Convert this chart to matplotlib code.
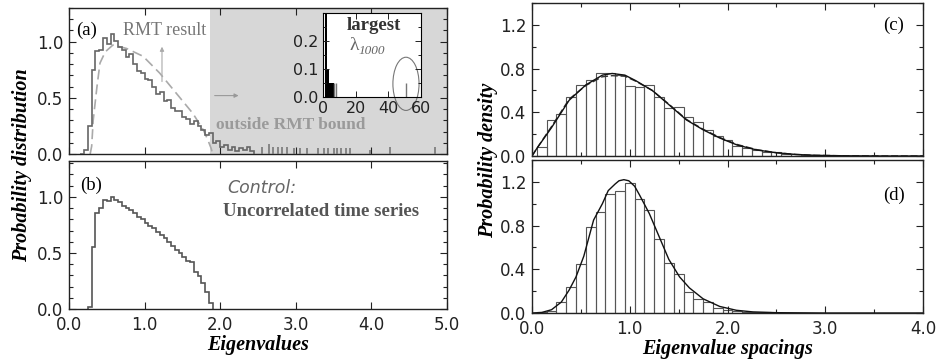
import numpy as np
import matplotlib
matplotlib.use('Agg')
import matplotlib.pyplot as plt
from matplotlib.patches import Ellipse
from matplotlib.ticker import MultipleLocator, FixedLocator, FormatStrFormatter

plt.rcParams['font.family'] = 'DejaVu Sans'

# ---- data ----
# (a) eigenvalue histogram, 0.05 wide bins starting at 0.15
a_edges = np.round(np.arange(0.15, 2.451, 0.05), 2)
a_heights = [0.00, 0.04, 0.25, 0.75, 0.92, 0.93, 1.03, 0.98, 1.07, 1.01,
             0.95, 0.93, 0.86, 0.89, 0.80, 0.74, 0.72, 0.67, 0.66, 0.60,
             0.53, 0.55, 0.47, 0.48, 0.41, 0.38, 0.38, 0.33, 0.31, 0.27,
             0.29, 0.25, 0.21, 0.17, 0.19, 0.10, 0.12, 0.06, 0.08, 0.04,
             0.06, 0.03, 0.05, 0.04, 0.06, 0.03]
# single eigenvalues scattered beyond the bulk
a_out_x = [2.55, 2.64, 2.70, 2.76, 2.82, 2.88, 2.97, 3.06, 3.15, 3.30,
           3.37, 3.43, 3.50, 3.55, 3.60, 3.66, 3.72, 3.98, 4.25, 4.84]
a_out_h = [0.06, 0.09, 0.06, 0.06, 0.06, 0.06, 0.05, 0.05, 0.05, 0.05,
           0.05, 0.05, 0.05, 0.05, 0.05, 0.05, 0.05, 0.04, 0.06, 0.06]
# RMT curve (dashed)
rmt_x = [0.28, 0.30, 0.32, 0.35, 0.37, 0.41, 0.48, 0.58, 0.76, 0.98,
         1.20, 1.42, 1.64, 1.78, 1.84, 1.88, 1.90]
rmt_y = [0.0, 0.07, 0.30, 0.48, 0.60, 0.81, 0.91, 0.97, 0.94, 0.87,
         0.72, 0.54, 0.36, 0.21, 0.12, 0.05, 0.0]
rmt_bound = 1.87

# inset: full range incl. largest eigenvalue
ins_left = [1.3, 2.6, 3.9, 5.2]
ins_h = [0.5, 0.10, 0.05, 0.05]
ins_line_x = [6.5, 8.0, 51.0]
ins_line_h = [0.05, 0.05, 0.05]

# (b) control: uncorrelated time series
b_edges = np.round(np.arange(0.25, 1.901, 0.05), 2)
b_heights = [0.02, 0.55, 0.86, 0.90, 0.97, 0.96, 1.00, 0.97, 0.95, 0.92,
             0.90, 0.88, 0.86, 0.82, 0.80, 0.77, 0.74, 0.72, 0.69, 0.66,
             0.63, 0.60, 0.56, 0.53, 0.50, 0.46, 0.43, 0.42, 0.33, 0.29,
             0.23, 0.15, 0.05]

# (c) eigenvalue spacings (unfolded), 0.1 wide bins from 0.05
c_left = np.round(np.arange(0.05, 3.06, 0.1), 2)
c_heights = [0.085, 0.33, 0.38, 0.54, 0.65, 0.70, 0.755, 0.755, 0.74, 0.64,
             0.63, 0.65, 0.54, 0.435, 0.45, 0.36, 0.31, 0.24, 0.18, 0.15,
             0.095, 0.07, 0.055, 0.04, 0.04, 0.02, 0.015, 0.01, 0.008, 0.005,
             0.004]
c_curve_x = [0.0, 0.05, 0.2, 0.38, 0.55, 0.72, 0.82, 0.95, 1.06, 1.23, 1.40,
             1.58, 1.75, 1.92, 2.1, 2.3, 2.5, 2.7, 2.9, 3.2, 3.6, 4.0]
c_curve_y = [0.0, 0.07, 0.26, 0.51, 0.65, 0.74, 0.755, 0.74, 0.69, 0.60, 0.47,
             0.33, 0.24, 0.165, 0.10, 0.055, 0.03, 0.014, 0.006, 0.002, 0.0, 0.0]
c_dash_y = [0.0, 0.07, 0.27, 0.52, 0.645, 0.725, 0.735, 0.73, 0.685, 0.60, 0.475,
            0.335, 0.245, 0.17, 0.105, 0.058, 0.03, 0.014, 0.006, 0.002, 0.0, 0.0]

# (d)
d_left = np.round(np.arange(0.05, 2.36, 0.1), 2)
d_heights = [0.005, 0.02, 0.10, 0.24, 0.45, 0.79, 0.92, 1.085, 1.12, 1.185,
             1.04, 0.94, 0.675, 0.46, 0.36, 0.195, 0.13, 0.105, 0.05, 0.03,
             0.015, 0.01, 0.008, 0.005]
d_curve_x = [0.0, 0.1, 0.2, 0.3, 0.38, 0.45, 0.53, 0.63, 0.72, 0.78, 0.85, 0.89,
             0.94, 0.99, 1.05, 1.10, 1.20, 1.30, 1.40, 1.51, 1.61, 1.75, 1.92,
             2.09, 2.26, 2.5, 3.0, 4.0]
d_curve_y = [0.0, 0.005, 0.03, 0.10, 0.21, 0.33, 0.52, 0.85, 1.00, 1.12, 1.18, 1.21,
             1.22, 1.21, 1.16, 1.08, 0.91, 0.70, 0.49, 0.33, 0.23, 0.13, 0.06,
             0.025, 0.01, 0.003, 0.0, 0.0]

serif = 'Liberation Serif'
tick_size = 12
lab_font = dict(family=serif, weight='bold', style='italic', size=14.5)

fig = plt.figure(figsize=(9.4, 3.63), dpi=100)
W, H = 940, 363


def box(l, t, r, b):
    return [l / W, 1 - b / H, (r - l) / W, (b - t) / H]


def style(ax, xmaj, xmin, ymaj, ymin, fmt='%.1f'):
    ax.xaxis.set_major_locator(MultipleLocator(xmaj))
    ax.yaxis.set_major_locator(MultipleLocator(ymaj))
    if xmin:
        ax.xaxis.set_minor_locator(MultipleLocator(xmin))
    if ymin:
        ax.yaxis.set_minor_locator(MultipleLocator(ymin))
    ax.xaxis.set_major_formatter(FormatStrFormatter(fmt))
    ax.yaxis.set_major_formatter(FormatStrFormatter(fmt))
    ax.tick_params(which='both', direction='in', top=True, right=True,
                   labelsize=tick_size, colors='#222', width=0.8)
    ax.tick_params(which='major', length=5)
    ax.tick_params(which='minor', length=3)
    ax.tick_params(axis='x', pad=5)
    ax.tick_params(axis='y', pad=4)
    for s in ax.spines.values():
        s.set_linewidth(1.0)
        s.set_color('#222')


ax_a = fig.add_axes(box(69, 8, 447, 154))
ax_b = fig.add_axes(box(69, 161, 447, 309))
ax_c = fig.add_axes(box(532, 3, 923, 156))
ax_d = fig.add_axes(box(532, 160, 923, 313))

# ---- (a) ----
ax_a.axvspan(rmt_bound, 5.0, color='#d7d7d7', lw=0, zorder=0)
ax_a.stairs(a_heights, a_edges, color='#666', lw=1.2, zorder=3)
ax_a.vlines(a_out_x, 0, a_out_h, color='#777', lw=1.2, zorder=3)
ax_a.plot(rmt_x, rmt_y, ls=(0, (6, 3)), color='#aaa', lw=1.2, zorder=2)
ax_a.set_xlim(0, 5.0)
ax_a.set_ylim(0, 1.3)
style(ax_a, 1.0, None, 0.5, 0.1)
ax_a.tick_params(labelbottom=False)
ax_a.text(0.1, 1.1, '(a)', family=serif, size=13.5, va='center')
ax_a.text(0.72, 1.1, 'RMT result', family=serif, size=13, color='#777', va='center')
ax_a.annotate('', xy=(1.23, 0.98), xytext=(1.23, 0.62),
              arrowprops=dict(arrowstyle='-|>', color='#aaa', lw=0.8, mutation_scale=6))
ax_a.annotate('', xy=(2.28, 0.52), xytext=(1.89, 0.52),
              arrowprops=dict(arrowstyle='-|>', color='#999', lw=0.8, mutation_scale=6))
ax_a.text(2.93, 0.26, 'outside RMT bound', family=serif, weight='bold', size=12.5,
          color='#9a9a9a', ha='center', va='center')

ins = fig.add_axes(box(323, 13, 421, 97))
ins.bar(ins_left, ins_h, width=1.3, align='edge', color='black', lw=0)
ins.vlines(ins_line_x, 0, ins_line_h, color='#777', lw=1.0)
ins.set_xlim(0, 60)
ins.set_ylim(0, 0.30)
ins.xaxis.set_major_locator(MultipleLocator(20))
ins.yaxis.set_major_locator(FixedLocator([0.0, 0.1, 0.2]))
ins.yaxis.set_minor_locator(MultipleLocator(0.05))
ins.yaxis.set_major_formatter(FormatStrFormatter('%.1f'))
ins.tick_params(which='both', direction='in', top=True, right=True,
                labelsize=11.5, colors='#222', width=0.7)
ins.tick_params(axis='x', pad=3)
ins.tick_params(axis='y', pad=3)
ins.tick_params(which='major', length=4)
ins.tick_params(which='minor', length=2)
ins.add_patch(Ellipse((50.8, 0.047), 16, 0.19, fill=False, ec='#777', lw=0.8,
                      clip_on=False))
ins.text(31, 0.255, 'largest', family=serif, weight='bold', size=13.5,
         color='#333', ha='center', va='center')
ins.text(16, 0.185, '\u03bb', family=serif, size=14, color='#666',
         ha='left', va='center')
ins.text(21.5, 0.165, '1000', family=serif, style='italic', size=9.5,
         color='#666', ha='left', va='center')

# ---- (b) ----
ax_b.stairs(b_heights, b_edges, color='#555', lw=1.2)
ax_b.set_xlim(0, 5.0)
ax_b.set_ylim(0, 1.32)
style(ax_b, 1.0, None, 0.5, 0.1)
ax_b.text(0.15, 1.1, '(b)', family=serif, size=13.5, va='center')
ax_b.text(2.09, 1.08, 'Control:', style='italic', size=12.5, color='#666', va='center')
ax_b.text(2.04, 0.87, 'Uncorrelated time series', family=serif, weight='bold',
          size=13.5, color='#555', va='center')
ax_b.set_xlabel('Eigenvalues', labelpad=1, **lab_font)

fig.text(22 / W, 1 - 165 / H, 'Probability distribution', rotation=90,
         ha='center', va='center', **lab_font)

# ---- (c) ----
ax_c.bar(c_left, c_heights, width=0.1, align='edge', fill=False,
         edgecolor='#555', lw=0.8)
ax_c.plot(c_curve_x, c_dash_y, ls=(0, (5, 2)), color='#333', lw=1.0)
ax_c.plot(c_curve_x, c_curve_y, color='#111', lw=1.0)
ax_c.set_xlim(0, 4.0)
ax_c.set_ylim(0, 1.4)
style(ax_c, 1.0, 0.5, 0.4, 0.2)
ax_c.tick_params(labelbottom=False)
ax_c.text(3.70, 1.2, '(c)', family=serif, size=13.5, ha='center', va='center')

# ---- (d) ----
ax_d.bar(d_left, d_heights, width=0.1, align='edge', fill=False,
         edgecolor='#555', lw=0.8)
ax_d.plot(d_curve_x, d_curve_y, color='#111', lw=1.0)
ax_d.set_xlim(0, 4.0)
ax_d.set_ylim(0, 1.4)
style(ax_d, 1.0, 0.5, 0.4, 0.2)
ax_d.text(3.70, 1.08, '(d)', family=serif, size=13.5, ha='center', va='center')
ax_d.set_xlabel('Eigenvalue spacings', labelpad=1, **lab_font)

fig.text(488 / W, 1 - 160 / H, 'Probability density', rotation=90,
         ha='center', va='center', **lab_font)

fig.savefig('out.png', dpi=100)
